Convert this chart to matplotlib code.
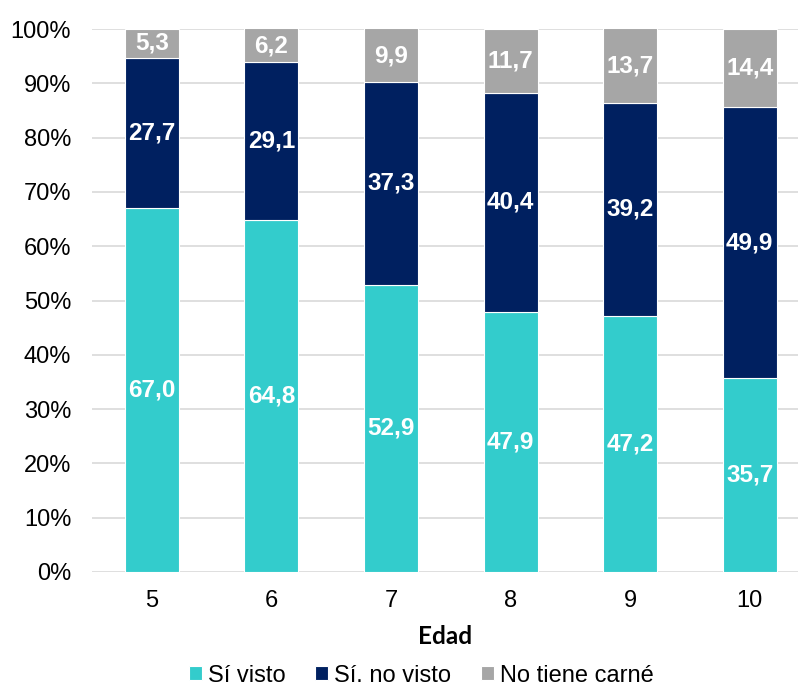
import matplotlib
matplotlib.use("Agg")
import matplotlib.pyplot as plt
import numpy as np
from matplotlib.ticker import FuncFormatter

edades = ["5", "6", "7", "8", "9", "10"]
si_visto = [67.0, 64.8, 52.9, 47.9, 47.2, 35.7]
si_no_visto = [27.7, 29.1, 37.3, 40.4, 39.2, 49.9]
no_tiene = [5.3, 6.2, 9.9, 11.7, 13.7, 14.4]

series = [
    ("Sí visto", si_visto, "#33CCCC"),
    ("Sí. no visto", si_no_visto, "#002060"),
    ("No tiene carné", no_tiene, "#A6A6A6"),
]

plt.rcParams["font.family"] = ["Liberation Sans", "DejaVu Sans"]

fig = plt.figure(figsize=(7.98, 6.89), dpi=100)
ax = fig.add_axes([92 / 798, 117 / 689, 1 - 92 / 798, (660 - 117) / 689])

x = np.arange(len(edades))
bottom = np.zeros(len(edades))
handles = []
for name, vals, color in series:
    vals = np.array(vals)
    bars = ax.bar(x, vals, 0.45, bottom=bottom, color=color, edgecolor="white",
                  linewidth=0.8, label=name, zorder=3)
    handles.append(bars)
    for xi, b, v in zip(x, bottom, vals):
        top = min(b + v, 100)
        ax.text(xi, (b + top) / 2, f"{v:.1f}".replace(".", ","), ha="center",
                va="center", color="white", fontsize=17.5, fontweight="bold", zorder=4)
    bottom = bottom + vals

ax.set_ylim(0, 100)
ax.set_xlim(-0.5, (798 - 92) / 119.6 - 0.5)
ax.set_yticks(np.arange(0, 101, 10))
ax.yaxis.set_major_formatter(FuncFormatter(lambda v, p: f"{int(v)}%"))
ax.set_xticks(x)
ax.set_xticklabels(edades)
ax.tick_params(axis="both", length=0, labelsize=17, colors="black")
ax.tick_params(axis="x", pad=13)
ax.tick_params(axis="y", pad=15)
ax.grid(axis="y", color="#D9D9D9", linewidth=1.2, zorder=0)
for s in ax.spines.values():
    s.set_visible(False)

ax.set_xlabel("Edad", fontsize=17.5, fontweight="bold", family=["Lato", "DejaVu Sans"], labelpad=9)

fig.legend(handles=handles, labels=[s[0] for s in series], loc="center",
           bbox_to_anchor=(0.528, 0.0195), ncol=3, frameon=False, fontsize=17,
           handlelength=0.55, handleheight=0.55, handletextpad=0.25, columnspacing=1.25)

fig.savefig("out.png", dpi=100)
